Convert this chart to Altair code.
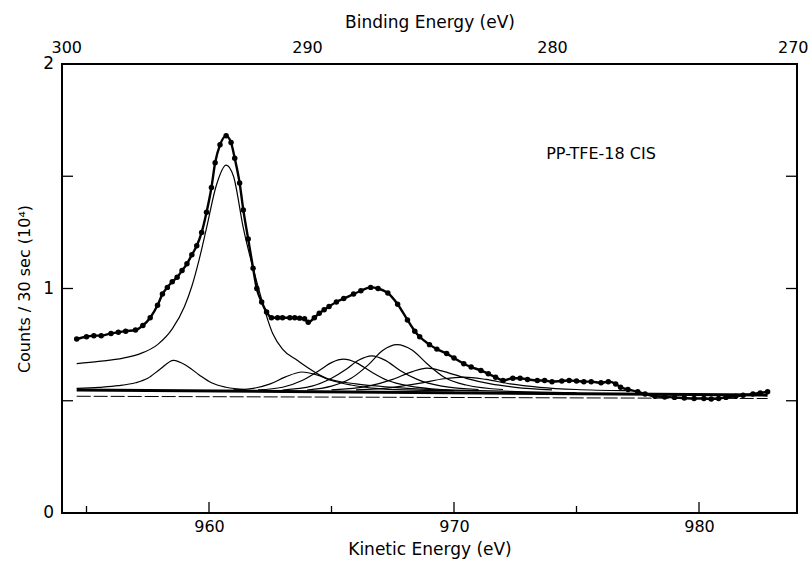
import altair as alt
import pandas as pd

# ---------------- data ----------------
# measured spectrum (dots), kinetic energy (eV) vs counts/30 s (10^4)
env_ke = [954.6, 955.0, 955.3, 955.6, 956.0, 956.3, 956.6, 957.0, 957.3, 957.6, 957.9,
          958.1, 958.3, 958.5, 958.7, 958.9, 959.1, 959.3, 959.5, 959.7, 959.9, 960.1,
          960.25, 960.45, 960.7, 960.9, 961.05, 961.25, 961.4, 961.6, 961.8, 961.95,
          962.15, 962.35, 962.55, 962.8, 963.0, 963.3, 963.5, 963.7, 963.9, 964.05,
          964.3, 964.5, 964.7, 964.9, 965.2, 965.5, 965.9, 966.2, 966.6, 966.9, 967.3,
          967.7, 968.1, 968.4, 968.6, 969.0, 969.3, 969.7, 970.0, 970.4, 970.7, 971.1,
          971.4, 971.7, 972.0, 972.4, 972.7, 973.0, 973.4, 973.7, 974.0, 974.4, 974.7,
          975.0, 975.3, 975.6, 976.0, 976.3, 976.6, 976.8, 977.1, 977.5, 977.8, 978.2,
          978.6, 979.0, 979.4, 979.8, 980.2, 980.5, 980.8, 981.1, 981.5, 981.8, 982.2,
          982.5, 982.8]
env_val = [0.775, 0.785, 0.79, 0.79, 0.80, 0.805, 0.81, 0.815, 0.835, 0.87, 0.925,
           0.975, 1.005, 1.03, 1.05, 1.08, 1.11, 1.15, 1.19, 1.25, 1.34, 1.45,
           1.56, 1.64, 1.68, 1.65, 1.58, 1.47, 1.35, 1.22, 1.09, 1.00,
           0.94, 0.895, 0.87, 0.87, 0.87, 0.87, 0.87, 0.868, 0.865, 0.85,
           0.87, 0.89, 0.905, 0.92, 0.94, 0.955, 0.975, 0.99, 1.005, 1.0, 0.98,
           0.93, 0.86, 0.81, 0.785, 0.75, 0.73, 0.71, 0.69, 0.665, 0.65, 0.635,
           0.62, 0.605, 0.59, 0.60, 0.60, 0.595, 0.59, 0.59, 0.585, 0.588, 0.59,
           0.588, 0.585, 0.585, 0.58, 0.585, 0.575, 0.56, 0.55, 0.54, 0.53, 0.52,
           0.517, 0.515, 0.512, 0.51, 0.51, 0.508, 0.51, 0.515, 0.52, 0.525, 0.53,
           0.535, 0.54]

# fitted components
c1_ke = [954.6, 955.5, 956.5, 957.2, 957.9, 958.5, 959.0, 959.3, 959.6, 959.9, 960.3,
         960.7, 961.0, 961.4, 962.0, 962.6, 963.0, 963.6, 964.8, 966.0, 967.5, 969.0,
         971.0, 973.0, 975.0]
c1_val = [0.665, 0.675, 0.69, 0.71, 0.75, 0.82, 0.92, 1.01, 1.13, 1.27, 1.46,
          1.55, 1.50, 1.27, 1.01, 0.80, 0.73, 0.68, 0.60, 0.575, 0.56, 0.55,
          0.545, 0.54, 0.535]
c2_ke = [954.6, 955.5, 956.3, 957.0, 957.5, 958.0, 958.55, 959.1, 959.6, 960.1, 960.7, 961.5]
c2_val = [0.555, 0.56, 0.567, 0.58, 0.60, 0.64, 0.68, 0.655, 0.615, 0.58, 0.56, 0.55]
c3_ke = [961.0, 961.8, 962.5, 963.1, 963.8, 964.4, 965.0, 965.8, 966.8, 968.0, 970.0]
c3_val = [0.548, 0.555, 0.575, 0.605, 0.628, 0.615, 0.59, 0.57, 0.555, 0.548, 0.545]
c4_ke = [962.0, 963.0, 963.8, 964.5, 965.0, 965.5, 966.0, 966.6, 967.3, 968.2, 969.5, 971.0]
c4_val = [0.548, 0.56, 0.59, 0.635, 0.67, 0.685, 0.67, 0.63, 0.59, 0.565, 0.55, 0.545]
c5_ke = [963.0, 964.2, 965.0, 965.6, 966.1, 966.65, 967.2, 967.8, 968.5, 969.5, 971.0]
c5_val = [0.548, 0.565, 0.60, 0.64, 0.68, 0.70, 0.68, 0.635, 0.595, 0.565, 0.55]
c6_ke = [964.0, 965.0, 965.8, 966.5, 967.1, 967.67, 968.3, 968.9, 969.6, 970.5, 972.0]
c6_val = [0.548, 0.565, 0.60, 0.66, 0.725, 0.75, 0.725, 0.665, 0.605, 0.57, 0.55]
c7_ke = [965.0, 966.5, 967.5, 968.3, 968.9, 969.6, 970.5, 971.5, 972.5, 974.0]
c7_val = [0.548, 0.565, 0.595, 0.63, 0.645, 0.63, 0.60, 0.575, 0.56, 0.548]
c8_ke = [966.0, 967.5, 968.7, 969.6, 970.4, 971.3, 972.3, 973.5, 975.0, 977.0]
c8_val = [0.548, 0.56, 0.58, 0.598, 0.605, 0.595, 0.575, 0.56, 0.55, 0.545]

# baselines
b1_ke = [954.6, 982.8]
b1_val = [0.548, 0.525]
b2_ke = [954.6, 982.8]
b2_val = [0.52, 0.51]

# axis tick values
ke_labels = [960, 970, 980]
ke_major = [960, 970, 980]
ke_minor = [955, 965, 975]
be_labels = [300, 290, 280, 270]
y_labels = [0, 1, 2]
y_label_text = ["0", "1", "2"]
y_ticks = [0.5, 1.0, 1.5]

# ---------------- build tables ----------------
env = pd.DataFrame({"ke": env_ke, "val": env_val})
comps = []
for name, k, v in [("c1", c1_ke, c1_val), ("c2", c2_ke, c2_val), ("c3", c3_ke, c3_val),
                   ("c4", c4_ke, c4_val), ("c5", c5_ke, c5_val), ("c6", c6_ke, c6_val),
                   ("c7", c7_ke, c7_val), ("c8", c8_ke, c8_val)]:
    comps.append(pd.DataFrame({"ke": k, "val": v, "comp": name}))
comp_df = pd.concat(comps, ignore_index=True)
b1 = pd.DataFrame({"ke": b1_ke, "val": b1_val})
b2 = pd.DataFrame({"ke": b2_ke, "val": b2_val})
ylab_df = pd.DataFrame({"val": y_labels, "t": y_label_text})

W, H = 735, 449
FONT = "DejaVu Sans"

xs = alt.Scale(domain=[954, 984], nice=False, zero=False)
ys = alt.Scale(domain=[0, 2], nice=False, zero=False)

x_axis = alt.Axis(title="Kinetic Energy  (eV)", values=ke_labels, format="d", ticks=False,
                  domain=False, grid=False, labelFlush=False, labelOverlap=False,
                  labelPadding=5, titlePadding=7, labelFontSize=16, titleFontSize=17,
                  labelFont=FONT, titleFont=FONT, titleFontWeight="normal",
                  labelColor="black", titleColor="black")
y_axis = alt.Axis(title="Counts / 30 sec  (10⁴)", values=y_labels, labels=False, ticks=False,
                  domain=False, grid=False, titlePadding=30, titleFontSize=16,
                  titleFont=FONT, titleFontWeight="normal", titleColor="black")


def X(field):
    return alt.X(field, scale=xs, axis=x_axis)


def Y(field):
    return alt.Y(field, scale=ys, axis=y_axis)


envelope_line = alt.Chart(env).mark_line(color="black", strokeWidth=2.4,
                                         interpolate="monotone").encode(
    x=X("ke:Q"), y=Y("val:Q"))
dots = alt.Chart(env).mark_circle(color="black", size=30, opacity=1).encode(
    x=X("ke:Q"), y=Y("val:Q"))
comp_lines = alt.Chart(comp_df).mark_line(color="black", strokeWidth=1.2,
                                          interpolate="monotone").encode(
    x=X("ke:Q"), y=Y("val:Q"), detail="comp:N")
base1 = alt.Chart(b1).mark_line(color="black", strokeWidth=3).encode(
    x=X("ke:Q"), y=Y("val:Q"))
base2 = alt.Chart(b2).mark_line(color="black", strokeWidth=1, strokeDash=[14, 3]).encode(
    x=X("ke:Q"), y=Y("val:Q"))

tick_major = alt.Chart(pd.DataFrame({"ke": ke_major})).mark_rule(color="black", strokeWidth=1.3).encode(
    x=X("ke:Q"), y=alt.value(H), y2=alt.value(H - 11))
tick_minor = alt.Chart(pd.DataFrame({"ke": ke_minor})).mark_rule(color="black", strokeWidth=1.3).encode(
    x=X("ke:Q"), y=alt.value(H), y2=alt.value(H - 7))
tick_left = alt.Chart(pd.DataFrame({"val": y_ticks})).mark_rule(color="black", strokeWidth=1.3).encode(
    y=Y("val:Q"), x=alt.value(0), x2=alt.value(11))
tick_right = alt.Chart(pd.DataFrame({"val": y_ticks})).mark_rule(color="black", strokeWidth=1.3).encode(
    y=Y("val:Q"), x=alt.value(W), x2=alt.value(W - 11))

y_tick_labels = alt.Chart(ylab_df).mark_text(
    font=FONT, fontSize=17, color="black", align="right", baseline="middle").encode(
    y=Y("val:Q"), x=alt.value(-8), text="t:N")

label = alt.Chart(pd.DataFrame({"t": ["PP-TFE-18 CIS"]})).mark_text(
    font=FONT, fontSize=16, color="black", align="center", baseline="middle").encode(
    x=alt.datum(976.0, scale=xs, axis=x_axis), y=alt.datum(1.60, scale=ys, axis=y_axis), text="t:N")

ke_layer = alt.layer(base2, base1, comp_lines, envelope_line, dots,
                     tick_major, tick_minor, tick_left, tick_right, y_tick_labels, label)

be_layer = alt.Chart(pd.DataFrame({"be": be_labels})).mark_point(opacity=0).encode(
    x=alt.X("be:Q", scale=alt.Scale(domain=[270, 300], reverse=True, nice=False, zero=False),
            axis=alt.Axis(orient="top", title="Binding Energy (eV)", values=be_labels,
                          format="d", ticks=False, domain=False, grid=False,
                          labelFlush=True, labelFlushOffset=11, labelOverlap=False,
                          labelPadding=9, titlePadding=8, labelFontSize=16, titleFontSize=17,
                          labelFont=FONT, titleFont=FONT, titleFontWeight="normal",
                          labelColor="black", titleColor="black")),
)

chart = alt.layer(ke_layer, be_layer).resolve_scale(x="independent").properties(
    width=W, height=H,
    autosize=alt.AutoSizeParams(type="none"),
    padding={"left": 62, "top": 64, "right": 12, "bottom": 49},
    background="white",
).configure_view(stroke="black", strokeWidth=2)

chart.save("out.html", embed_options={"renderer": "svg", "actions": False})
